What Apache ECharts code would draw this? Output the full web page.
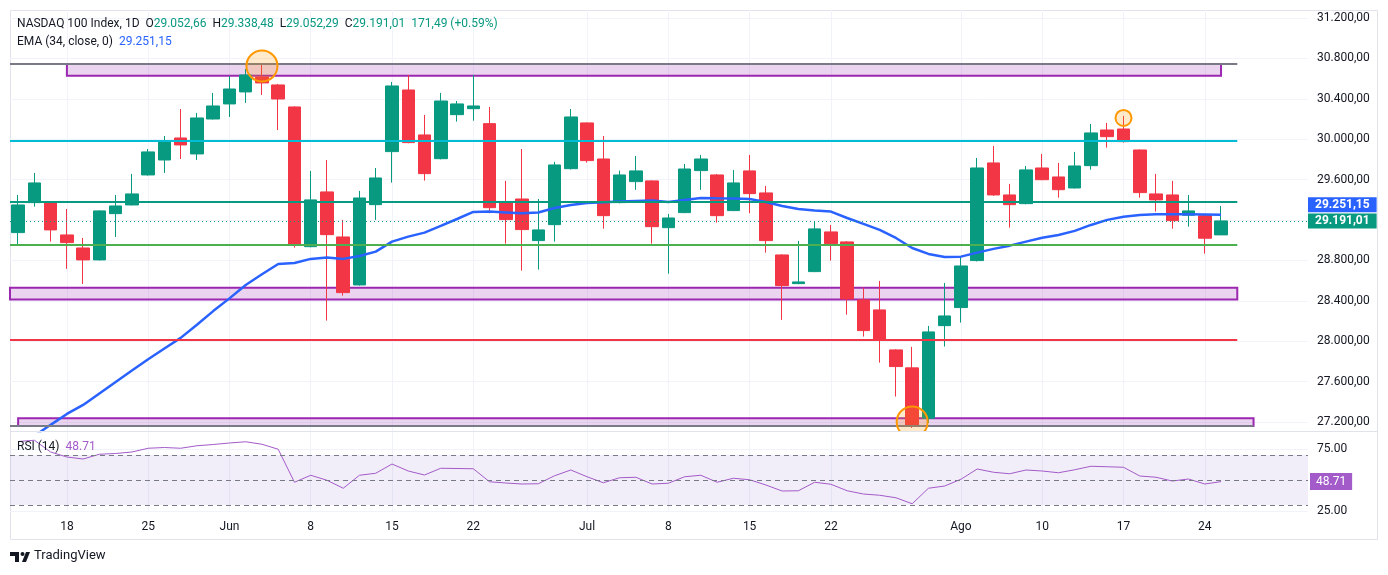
<!DOCTYPE html>
<html>
<head>
<meta charset="utf-8">
<title>NASDAQ 100 Index, 1D</title>
<script src="https://cdn.jsdelivr.net/npm/echarts@6/dist/echarts.min.js"></script>
<style>
  html, body { margin: 0; padding: 0; background: #fff; }
  #chart { width: 1388px; height: 575px; }
</style>
</head>
<body>
<div id="chart"></div>
<script>
// daily candles (index = trading day)
const opens = [
  29075, 29372, 29369, 29052, 28923, 28805, 29263, 29349, 29646, 29794,
  30012, 29854, 30200, 30349, 30468, 30616, 30537, 30319, 28936, 29478,
  29032, 28557, 29352, 29877, 30487, 30042, 29807, 30243, 30302, 30154,
  29379, 29408, 28996, 29154, 29708, 30161, 29804, 29372, 29580, 29587,
  29124, 29273, 29689, 29646, 29293, 29686, 29468, 28854, 28570, 28689,
  29082, 28983, 28409, 28310, 27914, 27736, 27238, 28154, 28333, 28798,
  29765, 29448, 29362, 29715, 29626, 29517, 29738, 30091, 30101, 29893,
  29458, 29448, 29247, 29243, 29052.66
];
const closes = [
  29349, 29567, 29102, 28976, 28805, 29290, 29339, 29458, 29874, 29983,
  29943, 30210, 30329, 30497, 30636, 30557, 30398, 28953, 29399, 29055,
  28481, 29418, 29616, 30527, 29966, 29659, 30378, 30349, 30329, 29322,
  29204, 29105, 29102, 29745, 30220, 29788, 29243, 29646, 29686, 29134,
  29220, 29705, 29804, 29243, 29567, 29461, 28996, 28550, 28587, 29112,
  28966, 28419, 28105, 28013, 27749, 27171, 28092, 28250, 28745, 29715,
  29448, 29352, 29696, 29599, 29500, 29735, 30062, 30025, 29976, 29471,
  29399, 29194, 29290, 29019.52, 29191.01
];
const lows = [
  28963, 29332, 28986, 28716, 28567, 28800, 29032, 29345, 29640, 29666,
  29804, 29794, 30195, 30220, 30359, 30438, 30091, 28926, 28930, 28204,
  28451, 28550, 29201, 29570, 29960, 29590, 29800, 30174, 30183, 29267,
  28966, 28699, 28709, 28986, 29700, 29768, 29114, 29365, 29498, 28966,
  28669, 29268, 29498, 29174, 29288, 29267, 28877, 28211, 28565, 28684,
  28798, 28263, 28046, 27788, 27452, 27142, 27191, 27947, 28184, 28790,
  29440, 29124, 29355, 29594, 29421, 29512, 29698, 29916, 29966, 29421,
  29283, 29114, 29134, 28867, 29052.29
];
const highs = [
  29448, 29666, 29375, 29309, 29022, 29295, 29448, 29656, 29903, 30032,
  30299, 30260, 30458, 30626, 30695, 30755, 30547, 30325, 29686, 29794,
  29201, 29488, 29715, 30567, 30636, 30240, 30458, 30378, 30636, 30319,
  29587, 29903, 29408, 29775, 30299, 30165, 30032, 29689, 29834, 29592,
  29260, 29755, 29844, 29656, 29696, 29844, 29537, 28860, 28993, 29181,
  29151, 28990, 28531, 28597, 27920, 27944, 28151, 28577, 28837, 29814,
  29933, 29557, 29735, 29854, 29765, 29874, 30151, 30161, 30230, 29898,
  29656, 29587, 29448, 29250, 29338.48
];
const ema34 = [
  26954, 27063, 27172, 27280, 27369, 27483, 27597, 27710, 27821, 27928,
  28033, 28163, 28298, 28424, 28557, 28663, 28765, 28775, 28815, 28829,
  28815, 28844, 28887, 28986, 29035, 29075, 29141, 29210, 29280, 29283,
  29275, 29267, 29275, 29319, 29349, 29369, 29376, 29384, 29389, 29392,
  29379, 29399, 29418, 29415, 29413, 29408, 29379, 29339, 29309, 29295,
  29283, 29220, 29161, 29102, 29022, 28923, 28864, 28834, 28837, 28877,
  28914, 28946, 28986, 29025, 29052, 29092, 29151, 29201, 29233, 29250,
  29257, 29257, 29257, 29255, 29251.15
];
const rsi14 = [
  80.8, 81.8, 72.4, 68.4, 66.8, 70.6, 71.2, 72.4, 75.4, 76.0,
  75.4, 77.4, 78.4, 79.6, 80.6, 78.6, 74.6, 48.2, 53.8, 49.8,
  43.4, 53.8, 55.4, 62.8, 57.2, 54.0, 59.4, 59.2, 59.0, 48.6,
  47.6, 46.8, 47.0, 53.4, 58.0, 52.6, 47.8, 51.8, 52.2, 46.8,
  47.4, 52.6, 53.8, 48.2, 51.4, 50.2, 46.0, 41.2, 41.4, 48.2,
  46.6, 41.4, 38.8, 37.8, 35.8, 31.0, 43.4, 45.2, 50.6, 58.8,
  56.2, 55.0, 58.0, 57.2, 55.8, 58.2, 61.0, 60.6, 60.2, 53.2,
  52.2, 49.2, 50.8, 46.8, 48.71
];

// date labels under the chart
const tickIdx = [3, 8, 13, 18, 23, 28, 35, 40, 45, 50, 58, 63, 68, 73];
const tickText = ['18', '25', 'Jun', '8', '15', '22', 'Jul', '8', '15', '22', 'Ago', '10', '17', '24'];
const priceTicks = [27200, 27600, 28000, 28400, 28800, 29200, 29600, 30000, 30400, 30800, 31200];
const rsiTicks = [25, 75];

// drawn horizontal levels (price, from day, to day)
const levelPrice = [30750, 29985, 29381, 28955, 28012, 27160];
const levelFrom = [-0.5, -0.5, -0.5, -0.5, -0.5, -0.5];
const levelTo = [75, 75, 75, 75, 75, 76];
const levelColor = ['#787b86', '#00bcd4', '#089981', '#4caf50', '#f23645', '#787b86'];

// drawn zones
const zoneTop = [30745, 28528, 27237];
const zoneBottom = [30629, 28414, 27160];
const zoneFrom = [3, -0.5, 0];
const zoneTo = [74, 75, 76];

// highlighted swing points
const markDay = [15, 68, 55];
const markPrice = [30725, 30210, 27200];
const markRadius = [15.5, 8, 15.5];

const UP = '#089981', DOWN = '#f23645', EMA_C = '#2962ff', RSI_C = '#a35bc9';
const FONT = 'Roboto, "Noto Sans", sans-serif';
const HIDDEN = { color: 'rgba(0,0,0,0)', width: 1, type: 'solid' };

function fmt(v) {
  const parts = Math.abs(v).toFixed(2).split('.');
  return (v < 0 ? '-' : '') + parts[0].replace(/\B(?=(\d{3})+(?!\d))/g, '.') + ',' + parts[1];
}

const last = closes.length - 1;
const chg = closes[last] - closes[last - 1];
const pct = (chg / closes[last - 1] * 100).toFixed(2);

const candles = opens.map((o, i) => [i, o, closes[i], lows[i], highs[i]]);

const chart = echarts.init(document.getElementById('chart'));

// price-scale badge; dy pushes it clear of a neighbouring badge like TradingView does
const priceLabel = (bg, dy) => ({
  show: true, position: 'end', distance: 0, offset: [0, dy],
  color: '#fff', backgroundColor: bg, fontFamily: FONT, fontSize: 12, fontWeight: 'bold',
  padding: [2, 7, 1, 7], formatter: (p) => fmt(p.value)
});

const option = {
  animation: false,
  backgroundColor: '#fff',
  textStyle: { fontFamily: FONT },
  title: [
    {
      left: 17, top: 17, padding: 0,
      text: '{t|NASDAQ 100 Index, 1D}  {t|O}{v|' + fmt(opens[last]) + '}  {t|H}{v|' + fmt(highs[last]) +
        '}  {t|L}{v|' + fmt(lows[last]) + '}  {t|C}{v|' + fmt(closes[last]) + '}  {v|' + fmt(chg) + ' (+' + pct + '%)}',
      textStyle: { fontSize: 12, fontWeight: 'normal', rich: {
        t: { color: '#131722', fontSize: 12, fontFamily: FONT, lineHeight: 14 },
        v: { color: UP, fontSize: 12, fontFamily: FONT, lineHeight: 14 }
      } }
    },
    {
      left: 17, top: 35, padding: 0,
      text: '{t|EMA (34, close, 0)}  {v|' + fmt(ema34[last]) + '}',
      textStyle: { fontSize: 12, fontWeight: 'normal', rich: {
        t: { color: '#131722', fontSize: 12, fontFamily: FONT, lineHeight: 14 },
        v: { color: EMA_C, fontSize: 12, fontFamily: FONT, lineHeight: 14 }
      } }
    },
    {
      left: 17, top: 440, padding: 0,
      text: '{t|RSI (14)}  {v|' + rsi14[last].toFixed(2) + '}',
      textStyle: { fontSize: 12, fontWeight: 'normal', rich: {
        t: { color: '#131722', fontSize: 12, fontFamily: FONT, lineHeight: 14 },
        v: { color: RSI_C, fontSize: 12, fontFamily: FONT, lineHeight: 14 }
      } }
    }
  ],
  grid: [
    { left: 10, right: 80, top: 10, height: 421, outerBoundsMode: 'none' },
    { left: 10, right: 80, top: 432, height: 79.25, outerBoundsMode: 'none' }
  ],
  xAxis: [
    {
      type: 'value', gridIndex: 0, min: -0.5, max: 79.35,
      axisLine: { show: false }, axisLabel: { show: false },
      axisTick: { show: false, customValues: tickIdx },
      splitLine: { show: true, lineStyle: { color: '#f0f3fa', width: 1 } }
    },
    {
      type: 'value', gridIndex: 1, min: -0.5, max: 79.35,
      axisLine: { show: false },
      axisTick: { show: false, customValues: tickIdx },
      axisLabel: {
        customValues: tickIdx, margin: 10, color: '#131722', fontSize: 12, fontFamily: FONT,
        formatter: (v) => tickText[tickIdx.indexOf(v)]
      },
      splitLine: { show: true, lineStyle: { color: '#f0f3fa', width: 1 } }
    }
  ],
  yAxis: [
    {
      type: 'value', gridIndex: 0, position: 'right', min: 27111, max: 31279,
      axisLine: { show: false },
      axisTick: { show: false, customValues: priceTicks },
      axisLabel: { customValues: priceTicks, margin: 9, color: '#131722', fontSize: 12, fontFamily: FONT, formatter: fmt },
      splitLine: { show: true, lineStyle: { color: '#f0f3fa', width: 1 } }
    },
    {
      type: 'value', gridIndex: 1, position: 'right', min: 25, max: 88.4,
      axisLine: { show: false },
      axisTick: { show: false, customValues: rsiTicks },
      axisLabel: { customValues: rsiTicks, margin: 9, color: '#131722', fontSize: 12, fontFamily: FONT, formatter: (v) => v.toFixed(2) },
      splitLine: { show: true, lineStyle: { color: '#f0f3fa', width: 1 } }
    }
  ],
  series: [
    {
      name: 'NASDAQ 100', type: 'candlestick', xAxisIndex: 0, yAxisIndex: 0, z: 2,
      data: candles, encode: { x: 0, y: [1, 2, 3, 4] }, barWidth: 13,
      itemStyle: { color: UP, color0: DOWN, borderColor: UP, borderColor0: DOWN, borderWidth: 1 },
      markLine: {
        silent: true, symbol: 'none', animation: false,
        data: [
          { yAxis: closes[last], lineStyle: { color: UP, type: [1, 3], width: 1 }, label: priceLabel(UP, 0) }
        ]
      }
    },
    {
      name: 'drawings', type: 'line', xAxisIndex: 0, yAxisIndex: 0, z: 3, data: [],
      markLine: {
        silent: true, symbol: 'none', animation: false, label: { show: false },
        data: levelPrice.map((p, i) => [
          { coord: [levelFrom[i], p], lineStyle: { color: levelColor[i], width: 2, type: 'solid' } },
          { coord: [levelTo[i], p] }
        ])
      },
      markArea: {
        silent: true, animation: false,
        itemStyle: { color: 'rgba(156,39,176,0.2)', borderColor: '#9c27b0', borderWidth: 2 },
        data: zoneTop.map((t, i) => [{ coord: [zoneFrom[i], t] }, { coord: [zoneTo[i], zoneBottom[i]] }])
      }
    },
    {
      name: 'EMA (34, close, 0)', type: 'line', xAxisIndex: 0, yAxisIndex: 0, z: 4,
      data: ema34.map((v, i) => [i, v]), showSymbol: false, symbol: 'none', clip: true,
      lineStyle: { color: EMA_C, width: 2.5 },
      markLine: {
        silent: true, symbol: 'none', animation: false,
        data: [{ yAxis: ema34[last], lineStyle: HIDDEN, label: priceLabel(EMA_C, -10) }]
      }
    },
    {
      name: 'marks', type: 'custom', xAxisIndex: 0, yAxisIndex: 0, z: 5, clip: true,
      data: markDay.map((d, i) => [d, markPrice[i]]), encode: { x: 0, y: 1 },
      renderItem: (params, api) => {
        const c = api.coord([api.value(0), api.value(1)]);
        return {
          type: 'circle',
          shape: { cx: c[0], cy: c[1], r: markRadius[params.dataIndex] },
          style: { fill: 'rgba(255,152,0,0.2)', stroke: '#ff9800', lineWidth: 2 }
        };
      }
    },
    {
      name: 'RSI (14)', type: 'line', xAxisIndex: 1, yAxisIndex: 1, z: 3,
      data: rsi14.map((v, i) => [i, v]), showSymbol: false, symbol: 'none', clip: true,
      lineStyle: { color: RSI_C, width: 1 },
      markArea: {
        silent: true, animation: false,
        itemStyle: { color: 'rgba(126,87,194,0.1)' },
        data: [[{ yAxis: 70 }, { yAxis: 30 }]]
      },
      markLine: {
        silent: true, symbol: 'none', animation: false,
        data: [
          { yAxis: 70, lineStyle: { color: '#787b86', type: [5, 4], width: 1 }, label: { show: false } },
          { yAxis: 50, lineStyle: { color: '#787b86', type: [5, 4], width: 1 }, label: { show: false } },
          { yAxis: 30, lineStyle: { color: '#787b86', type: [5, 4], width: 1 }, label: { show: false } },
          { yAxis: rsi14[last], lineStyle: HIDDEN,
            label: { show: true, position: 'end', distance: 2, color: '#fff', backgroundColor: RSI_C,
              fontFamily: FONT, fontSize: 12, padding: [3, 6, 2, 6], formatter: (p) => p.value.toFixed(2) } }
        ]
      }
    }
  ],
  graphic: [
    { type: 'rect', silent: true, z: 0, shape: { x: 10.5, y: 10.5, width: 1367, height: 529 },
      style: { fill: 'none', stroke: '#e0e3eb', lineWidth: 1 } },
    { type: 'line', silent: true, z: 10, shape: { x1: 10, y1: 431.5, x2: 1378, y2: 431.5 },
      style: { stroke: '#e0e3eb', lineWidth: 1 } },
    { type: 'rect', silent: true, shape: { x: 10, y: 552, width: 9, height: 4 }, style: { fill: '#131722' } },
    { type: 'rect', silent: true, shape: { x: 15, y: 552, width: 4, height: 10 }, style: { fill: '#131722' } },
    { type: 'circle', silent: true, shape: { cx: 22.5, cy: 554, r: 2 }, style: { fill: '#131722' } },
    { type: 'polygon', silent: true, shape: { points: [[26, 552], [30, 552], [26, 562], [22, 562]] }, style: { fill: '#131722' } },
    { type: 'text', silent: true, left: 34, top: 549,
      style: { text: 'TradingView', fill: '#131722', font: '13px ' + FONT } }
  ]
};

chart.setOption(option);
</script>
</body>
</html>
